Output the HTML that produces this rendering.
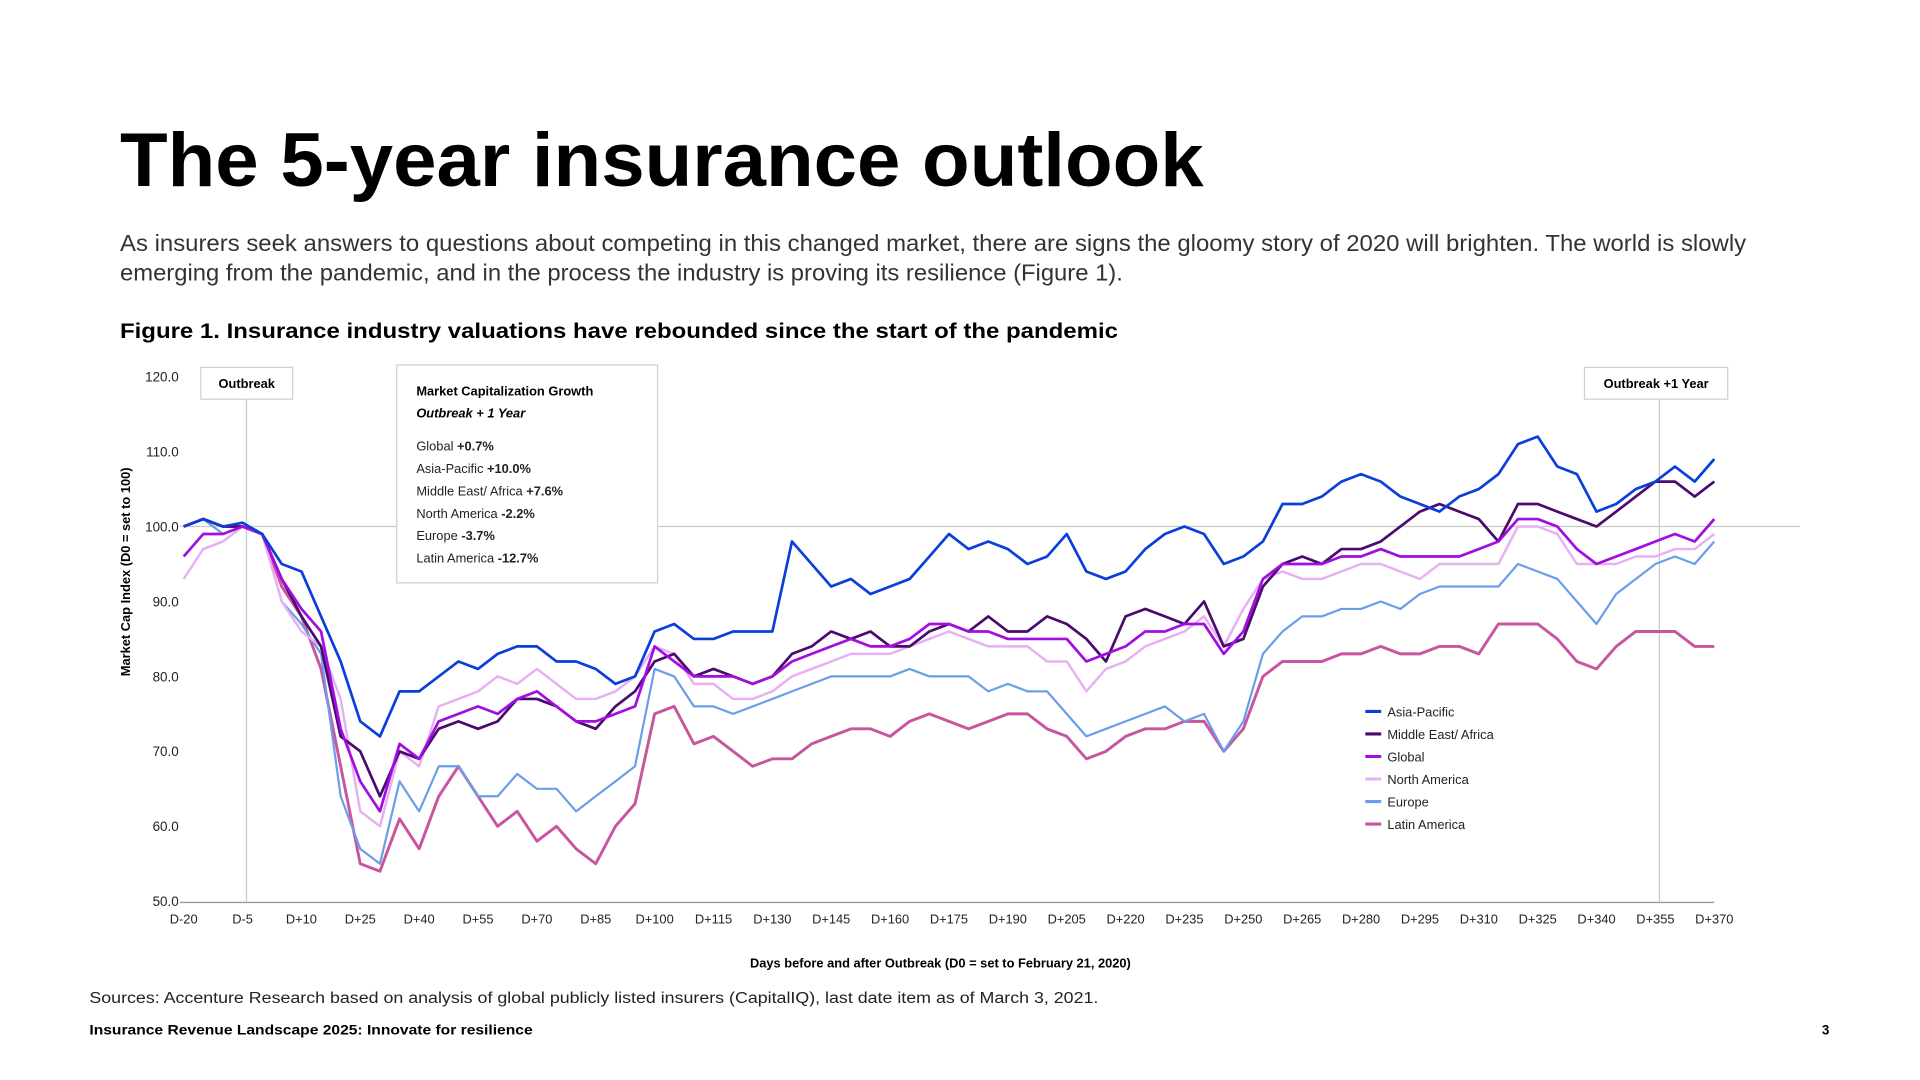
<!DOCTYPE html>
<html><head><meta charset="utf-8"><style>
html,body{margin:0;padding:0;background:#fff;width:1920px;height:1080px;overflow:hidden}
svg text{font-family:"Liberation Sans",sans-serif}
</style></head><body>
<svg id="page" width="1920" height="1080" viewBox="0 0 1568 882" preserveAspectRatio="none" xmlns="http://www.w3.org/2000/svg">
<text x="98" y="152" font-size="62" font-weight="bold" textLength="885" lengthAdjust="spacingAndGlyphs" fill="#000">The 5-year insurance outlook</text>
<text x="98" y="205" font-size="18.5" fill="#333" textLength="1328" lengthAdjust="spacingAndGlyphs">As insurers seek answers to questions about competing in this changed market, there are signs the gloomy story of 2020 will brighten. The world is slowly</text>
<text x="98" y="229" font-size="18.5" fill="#333" textLength="819" lengthAdjust="spacingAndGlyphs">emerging from the pandemic, and in the process the industry is proving its resilience (Figure 1).</text>
<text x="98" y="276" font-size="17.5" font-weight="bold" fill="#000" textLength="815" lengthAdjust="spacingAndGlyphs">Figure 1. Insurance industry valuations have rebounded since the start of the pandemic</text>
<g id="chart"></g>
<text x="73" y="819" font-size="13" fill="#222" textLength="824" lengthAdjust="spacingAndGlyphs">Sources: Accenture Research based on analysis of global publicly listed insurers (CapitalIQ), last date item as of March 3, 2021.</text>
<text x="73" y="845" font-size="11" font-weight="bold" fill="#000" textLength="362" lengthAdjust="spacingAndGlyphs">Insurance Revenue Landscape 2025: Innovate for resilience</text>
<text x="1494" y="845" font-size="11" font-weight="bold" text-anchor="end" fill="#000">3</text>
</svg>
<script>
const days = [];
for (let d = -20; d <= 370; d += 5) days.push(d);
const seriesNames = ["Asia-Pacific","Middle East/ Africa","Global","North America","Europe","Latin America"];
const asiaPacific = [100,101,100,100.5,99,95,94,88,82,74,72,78,78,80,82,81,83,84,84,82,82,81,79,80,86,87,85,85,86,86,86,98,95,92,93,91,92,93,96,99,97,98,97,95,96,99,94,93,94,97,99,100,99,95,96,98,103,103,104,106,107,106,104,103,102,104,105,107,111,112,108,107,102,103,105,106,108,106,109];
const middleEastAfrica = [100,101,100,100,99,93,88,84,72,70,64,70,69,73,74,73,74,77,77,76,74,73,76,78,82,83,80,81,80,79,80,83,84,86,85,86,84,84,86,87,86,88,86,86,88,87,85,82,88,89,88,87,90,84,85,92,95,96,95,97,97,98,100,102,103,102,101,98,103,103,102,101,100,102,104,106,106,104,106];
const globalSeries = [96,99,99,100,99,93,89,86,73,66,62,71,69,74,75,76,75,77,78,76,74,74,75,76,84,82,80,80,80,79,80,82,83,84,85,84,84,85,87,87,86,86,85,85,85,85,82,83,84,86,86,87,87,83,86,93,95,95,95,96,96,97,96,96,96,96,97,98,101,101,100,97,95,96,97,98,99,98,101];
const northAmerica = [93,97,98,100,99,90,86,84,77,62,60,70,68,76,77,78,80,79,81,79,77,77,78,80,84,83,79,79,77,77,78,80,81,82,83,83,83,84,85,86,85,84,84,84,82,82,78,81,82,84,85,86,88,84,89,93,94,93,93,94,95,95,94,93,95,95,95,95,100,100,99,95,95,95,96,96,97,97,99];
const europe = [100,101,99,100,99,90,87,83,64,57,55,66,62,68,68,64,64,67,65,65,62,64,66,68,81,80,76,76,75,76,77,78,79,80,80,80,80,81,80,80,80,78,79,78,78,75,72,73,74,75,76,74,75,70,74,83,86,88,88,89,89,90,89,91,92,92,92,92,95,94,93,90,87,91,93,95,96,95,98];
const latinAmerica = [100,101,100,100,99,92,88,81,68,55,54,61,57,64,68,64,60,62,58,60,57,55,60,63,75,76,71,72,70,68,69,69,71,72,73,73,72,74,75,74,73,74,75,75,73,72,69,70,72,73,73,74,74,70,73,80,82,82,82,83,83,84,83,83,84,84,83,87,87,87,85,82,81,84,86,86,86,84,84];
const yTicks = [50,60,70,80,90,100,110,120];
const yTickLabels = ["50.0","60.0","70.0","80.0","90.0","100.0","110.0","120.0"];
const xTickDays = [-20,-5,10,25,40,55,70,85,100,115,130,145,160,175,190,205,220,235,250,265,280,295,310,325,340,355,370];
const growthLabels = ["Global","Asia-Pacific","Middle East/ Africa","North America","Europe","Latin America"];
const growthValues = ["+0.7%","+10.0%","+7.6%","-2.2%","-3.7%","-12.7%"];

const NS = "http://www.w3.org/2000/svg";
const g = document.getElementById("chart");
const X0 = 150, X1 = 1400, Y50 = 736, Y100 = 430;
const xs = d => X0 + (d + 20) * (X1 - X0) / 390;
const ys = v => Y50 - (v - 50) * (Y50 - Y100) / 50;
function mk(tag, attrs, parent) {
  const e = document.createElementNS(NS, tag);
  for (const k in attrs) e.setAttribute(k, attrs[k]);
  (parent || g).appendChild(e);
  return e;
}
yTicks.forEach((v, i) => {
  const t = mk("text", {x: 146, y: ys(v) + 4, "font-size": 11, "text-anchor": "end", fill: "#222"});
  t.textContent = yTickLabels[i];
  
  
});
const ref = mk("line", {x1: 147, x2: 1470, y1: ys(100), y2: ys(100), stroke: "#c8c8c8", "stroke-width": 1});


const ob = mk("line", {x1: xs(-4), x2: xs(-4), y1: 326, y2: 736, stroke: "#c8c8c8", "stroke-width": 1});


const ob1 = mk("line", {x1: xs(356), x2: xs(356), y1: 326, y2: 736, stroke: "#c8c8c8", "stroke-width": 1});


const ax = mk("line", {x1: 147, x2: 1400, y1: 737, y2: 737, stroke: "#999", "stroke-width": 1.2});


xTickDays.forEach(d => {
  const t = mk("text", {x: xs(d), y: 754, "font-size": 10.5, "text-anchor": "middle", fill: "#222"});
  t.textContent = d < 0 ? "D" + d : "D+" + d;
  
  
});
const xt = mk("text", {x: 768, y: 790, "font-size": 10.5, "font-weight": "bold", "text-anchor": "middle", fill: "#000"});
xt.textContent = "Days before and after Outbreak (D0 = set to February 21, 2020)";


const yt = mk("text", {x: 0, y: 0, "font-size": 10.5, "font-weight": "bold", "text-anchor": "middle", fill: "#000", transform: "translate(106,467) rotate(-90)"});
yt.textContent = "Market Cap Index (D0 = set to 100)";


const allSeries = [asiaPacific, middleEastAfrica, globalSeries, northAmerica, europe, latinAmerica];
const colors = ["#0a3fdc","#4a0a6e","#a20de0","#e6b0f2","#6a9ee8","#c8569e"];
const widths = [2.2,2.2,2.2,2,1.8,2.4];
const slugs = ["asia-pacific","middle-east-africa","global","north-america","europe","latin-america"];
[5,4,3,1,2,0].forEach(i => {
  const pts = allSeries[i].map((v, j) => xs(days[j]).toFixed(1) + "," + ys(v).toFixed(1)).join(" ");
  const p = mk("polyline", {points: pts, fill: "none", stroke: colors[i], "stroke-width": widths[i], "stroke-linejoin": "round"});
  
  
});
seriesNames.forEach((n, i) => {
  const y = 581 + i * 18.4;
  const sw = mk("line", {x1: 1115, x2: 1128, y1: y, y2: y, stroke: colors[i], "stroke-width": 2.5});
  
  
  const t = mk("text", {x: 1133, y: y + 4, "font-size": 10.5, fill: "#222"});
  t.textContent = n;
  
  
});
function box(x, y, w, h, name) {
  const r = mk("rect", {x: x, y: y, width: w, height: h, fill: "#fff", stroke: "#d0d0d0", "stroke-width": 1});
  
  
}
box(164, 300, 75, 26, "outbreak-label-box");
const t1 = mk("text", {x: 201.5, y: 317, "font-size": 10.5, "font-weight": "bold", "text-anchor": "middle", fill: "#000"});
t1.textContent = "Outbreak";


box(1294, 300, 117, 26, "outbreak-1-year-label-box");
const t2 = mk("text", {x: 1352.5, y: 317, "font-size": 10.5, "font-weight": "bold", "text-anchor": "middle", fill: "#000"});
t2.textContent = "Outbreak +1 Year";


box(324, 298, 213, 178, "growth-summary-box");
const h1 = mk("text", {x: 340, y: 323, "font-size": 10.5, "font-weight": "bold", fill: "#000"});
h1.textContent = "Market Capitalization Growth";


const h2 = mk("text", {x: 340, y: 341, "font-size": 10.5, "font-weight": "bold", "font-style": "italic", fill: "#000"});
h2.textContent = "Outbreak + 1 Year";


growthLabels.forEach((n, i) => {
  const t = mk("text", {x: 340, y: 368 + i * 18.3, "font-size": 10.5, fill: "#222"});
  const a = document.createElementNS(NS, "tspan"); a.textContent = n + " ";
  const b = document.createElementNS(NS, "tspan"); b.setAttribute("font-weight", "bold"); b.textContent = growthValues[i];
  t.appendChild(a); t.appendChild(b);
  
  
});
</script>
</body></html>
